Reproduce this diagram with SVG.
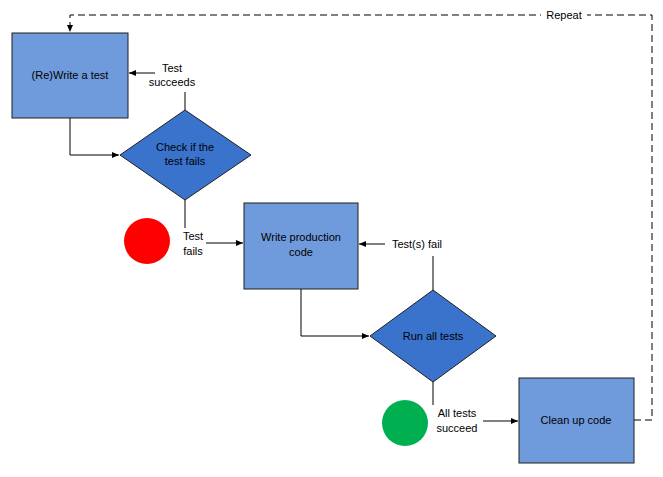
<svg xmlns="http://www.w3.org/2000/svg" width="663" height="477" viewBox="0 0 663 477">
<style>
.box{fill:#6F9BDC;stroke:#1f1f1f;stroke-width:1}
.dia{fill:#3A73CC;stroke:#1f1f1f;stroke-width:1}
.t{font-family:"Liberation Sans",Arial,sans-serif;font-size:11px;fill:#000;text-anchor:middle}
.c{fill:none;stroke:#000;stroke-width:1}
</style>
<defs><marker id="a" markerWidth="8" markerHeight="8" refX="7" refY="4" orient="auto" markerUnits="userSpaceOnUse"><path d="M0,1 L7,4 L0,7 z" fill="#000"/></marker></defs>
<rect width="663" height="477" fill="#fff"/>
<g id="connectors">
<path class="c" d="M634,420 H652 V15 H70 V32" stroke-dasharray="7,4" marker-end="url(#a)"/>
<path class="c" d="M185,110 V92"/>
<path class="c" d="M155,73 H129" marker-end="url(#a)"/>
<path class="c" d="M70,118 V155 H119" marker-end="url(#a)"/>
<path class="c" d="M185,200 V228"/>
<path class="c" d="M206,243 H243" marker-end="url(#a)"/>
<path class="c" d="M301,289 V336 H369" marker-end="url(#a)"/>
<path class="c" d="M433,290 V256"/>
<path class="c" d="M385,244 H359" marker-end="url(#a)"/>
<path class="c" d="M433,382 V405"/>
<path class="c" d="M483,421 H518" marker-end="url(#a)"/>
<rect x="541" y="9" width="46" height="12" fill="#fff"/>
<text class="t" x="564" y="19">Repeat</text>
<text class="t" x="172" y="72">Test</text>
<text class="t" x="172" y="86">succeeds</text>
<text class="t" x="193" y="240">Test</text>
<text class="t" x="193" y="255">fails</text>
<text class="t" x="417" y="248">Test(s) fail</text>
<text class="t" x="457" y="417">All tests</text>
<text class="t" x="457" y="432">succeed</text>
</g>
<g id="write-test"><rect class="box" x="12" y="33" width="116" height="85"/><text class="t" x="70" y="79">(Re)Write a test</text></g>
<g id="check-fails"><polygon class="dia" points="185,110 251,155 185,200 120,155"/><text class="t" x="185" y="151">Check if the</text><text class="t" x="185" y="165">test fails</text></g>
<g id="red"><circle cx="147" cy="241" r="23" fill="#FF0000"/></g>
<g id="write-prod"><rect class="box" x="244" y="203" width="114" height="86"/><text class="t" x="301" y="241">Write production</text><text class="t" x="301" y="256">code</text></g>
<g id="run-tests"><polygon class="dia" points="433,290 496,336 433,382 370,336"/><text class="t" x="433" y="340">Run all tests</text></g>
<g id="green"><circle cx="405" cy="423" r="23" fill="#00B050"/></g>
<g id="cleanup"><rect class="box" x="519" y="378" width="115" height="85"/><text class="t" x="576" y="424">Clean up code</text></g>
</svg>
